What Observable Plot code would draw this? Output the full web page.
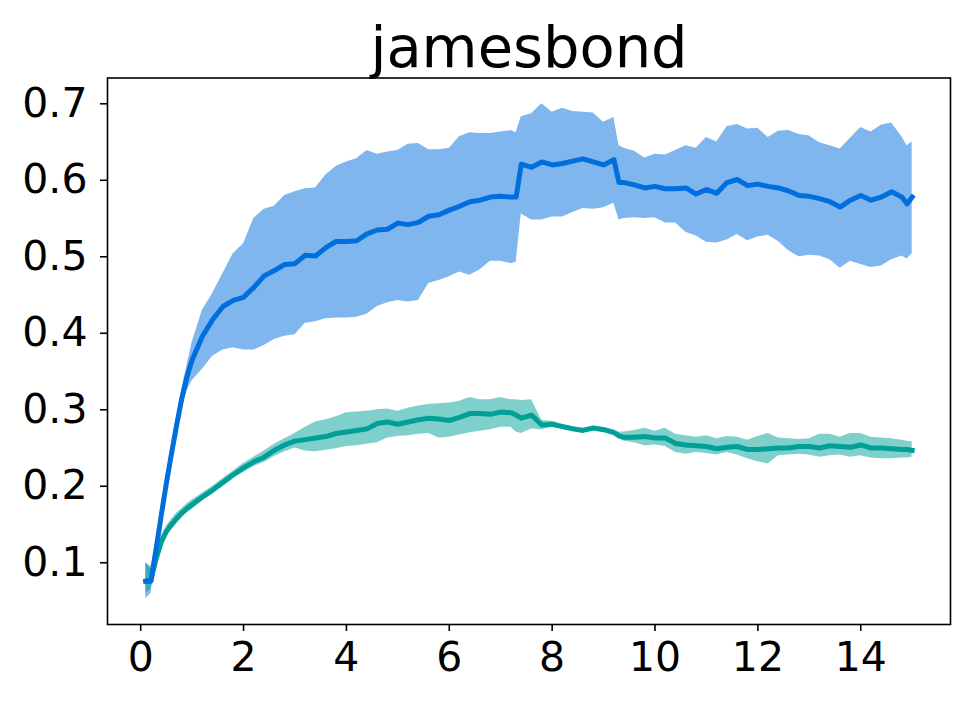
<!DOCTYPE html>
<html>
<head>
<meta charset="utf-8">
<script src="https://cdn.jsdelivr.net/npm/d3@7"></script>
<script src="https://cdn.jsdelivr.net/npm/@observablehq/plot@0.6"></script>
<style>
  html, body { margin: 0; padding: 0; background: white; }
</style>
</head>
<body>
<div id="chart"></div>
<script>
const title = "jamesbond";
const xTicks = [0, 2, 4, 6, 8, 10, 12, 14];
const yTicks = [0.1, 0.2, 0.3, 0.4, 0.5, 0.6, 0.7];

const xs = [0.1,0.2,0.3,0.4,0.5,0.6,0.7,0.8,0.9,1.0,
  1.2,1.4,1.6,1.8,2.0,2.2,2.4,2.6,2.8,3.0,3.2,3.4,3.6,3.8,4.0,4.2,4.4,4.6,4.8,5.0,
  5.2,5.4,5.6,5.8,6.0,6.2,6.4,6.6,6.8,7.0,7.2,7.3,
  7.4,7.6,7.8,8.0,8.2,8.4,8.6,8.8,9.0,9.2,9.3,
  9.4,9.6,9.8,10.0,10.2,10.4,10.6,10.8,11.0,11.2,11.4,11.6,11.8,12.0,12.2,12.4,12.6,12.8,
  13.0,13.2,13.4,13.6,13.8,14.0,14.2,14.4,14.6,14.8,14.9,15.0];

const blueMean = [0.076,0.076,0.118,0.162,0.204,0.243,0.280,0.315,0.343,0.365,
  0.396,0.418,0.435,0.443,0.447,0.460,0.475,0.482,0.490,0.491,0.502,0.501,0.512,0.520,0.520,0.521,0.530,0.535,0.536,0.544,
  0.542,0.545,0.553,0.555,0.561,0.566,0.572,0.574,0.578,0.579,0.578,0.578,
  0.621,0.617,0.624,0.620,0.622,0.625,0.628,0.624,0.620,0.627,0.597,
  0.597,0.594,0.590,0.592,0.589,0.589,0.590,0.582,0.588,0.583,0.597,0.601,0.593,0.595,0.592,0.590,0.586,0.580,
  0.579,0.576,0.572,0.565,0.574,0.580,0.574,0.578,0.585,0.578,0.569,0.578];

const blueHigh = [0.100,0.092,0.128,0.172,0.214,0.253,0.291,0.327,0.358,0.388,
  0.430,0.452,0.478,0.504,0.517,0.550,0.562,0.566,0.580,0.585,0.589,0.590,0.607,0.618,0.624,0.628,0.639,0.634,0.637,0.639,
  0.647,0.648,0.640,0.640,0.642,0.657,0.662,0.661,0.661,0.663,0.665,0.662,
  0.683,0.687,0.700,0.689,0.694,0.690,0.689,0.688,0.676,0.682,0.645,
  0.642,0.638,0.629,0.634,0.633,0.639,0.645,0.642,0.656,0.650,0.670,0.673,0.667,0.668,0.656,0.664,0.665,0.660,
  0.658,0.649,0.645,0.641,0.655,0.669,0.663,0.672,0.675,0.657,0.645,0.650];

const blueLow = [0.053,0.060,0.108,0.152,0.194,0.232,0.268,0.300,0.325,0.338,
  0.353,0.370,0.378,0.381,0.378,0.378,0.384,0.392,0.396,0.398,0.413,0.415,0.419,0.420,0.420,0.421,0.425,0.435,0.440,0.443,
  0.441,0.443,0.465,0.469,0.474,0.480,0.476,0.483,0.494,0.494,0.491,0.493,
  0.556,0.548,0.548,0.552,0.552,0.558,0.563,0.562,0.564,0.570,0.548,
  0.550,0.551,0.550,0.551,0.544,0.544,0.532,0.527,0.519,0.518,0.522,0.529,0.521,0.526,0.528,0.520,0.508,0.500,
  0.502,0.501,0.496,0.485,0.494,0.490,0.486,0.488,0.496,0.501,0.497,0.504];

const tealMean = [0.076,0.078,0.105,0.127,0.141,0.150,0.158,0.165,0.171,0.176,
  0.186,0.195,0.205,0.215,0.224,0.232,0.238,0.247,0.254,0.259,0.261,0.263,0.265,0.269,0.271,0.273,0.275,0.282,0.284,0.281,
  0.284,0.287,0.289,0.288,0.286,0.290,0.295,0.295,0.294,0.297,0.296,0.293,
  0.289,0.293,0.280,0.281,0.278,0.275,0.273,0.276,0.274,0.270,0.266,
  0.264,0.264,0.265,0.263,0.263,0.256,0.254,0.253,0.252,0.249,0.251,0.252,0.248,0.248,0.249,0.250,0.250,0.252,
  0.252,0.250,0.253,0.252,0.251,0.254,0.250,0.250,0.249,0.248,0.248,0.247];

const tealHigh = [0.100,0.095,0.113,0.134,0.148,0.157,0.165,0.171,0.177,0.182,
  0.191,0.200,0.210,0.220,0.230,0.238,0.246,0.255,0.262,0.269,0.277,0.284,0.287,0.291,0.296,0.297,0.298,0.300,0.301,0.298,
  0.302,0.305,0.307,0.308,0.309,0.311,0.316,0.313,0.313,0.316,0.313,0.313,
  0.312,0.313,0.286,0.285,0.281,0.278,0.276,0.279,0.277,0.274,0.271,
  0.271,0.273,0.276,0.272,0.276,0.268,0.266,0.264,0.266,0.262,0.265,0.264,0.260,0.265,0.269,0.263,0.262,0.261,
  0.262,0.268,0.268,0.264,0.269,0.269,0.264,0.263,0.262,0.260,0.259,0.258];

const tealLow = [0.060,0.065,0.097,0.120,0.134,0.143,0.151,0.159,0.165,0.170,
  0.181,0.190,0.200,0.210,0.218,0.226,0.231,0.239,0.245,0.250,0.246,0.245,0.247,0.249,0.252,0.253,0.255,0.257,0.263,0.265,
  0.266,0.268,0.269,0.263,0.264,0.267,0.270,0.272,0.274,0.277,0.277,0.271,
  0.269,0.275,0.274,0.277,0.275,0.272,0.270,0.273,0.271,0.267,0.262,
  0.259,0.257,0.253,0.254,0.252,0.244,0.242,0.244,0.243,0.241,0.244,0.241,0.236,0.232,0.229,0.240,0.241,0.242,
  0.241,0.238,0.240,0.241,0.238,0.240,0.237,0.236,0.236,0.237,0.237,0.238];

const blueColor = "#006edc";
const tealColor = "#009f97";

const data = xs.map((x, i) => ({
  x,
  bm: blueMean[i], bl: blueLow[i], bu: blueHigh[i],
  tm: tealMean[i], tl: tealLow[i], tu: tealHigh[i]
}));

const chart = Plot.plot({
  width: 968,
  height: 704,
  marginLeft: 107,
  marginRight: 18,
  marginTop: 77.5,
  marginBottom: 80,
  style: { fontFamily: "DejaVu Sans", background: "white", color: "black", overflow: "visible" },
  x: { domain: [-0.645, 15.745] },
  y: { domain: [0.0193, 0.7337] },
  marks: [
    Plot.areaY(data, { x: "x", y1: "bl", y2: "bu", fill: blueColor, fillOpacity: 0.5, curve: "linear" }),
    Plot.areaY(data, { x: "x", y1: "tl", y2: "tu", fill: tealColor, fillOpacity: 0.5, curve: "linear" }),
    Plot.lineY(data, { x: "x", y: "tm", stroke: tealColor, strokeWidth: 5, strokeLinecap: "square", curve: "linear" }),
    Plot.lineY(data, { x: "x", y: "bm", stroke: blueColor, strokeWidth: 5, strokeLinecap: "square", curve: "linear" }),
    Plot.frame({ stroke: "black", strokeWidth: 1.6 }),
    Plot.axisX({ ticks: xTicks, tickSize: 7, tickPadding: 10, fontSize: 41, strokeWidth: 1.6, tickFormat: d => String(d), label: null }),
    Plot.axisY({ ticks: yTicks, tickSize: 7, tickPadding: 13, fontSize: 41, strokeWidth: 1.6, tickFormat: d3.format(".1f"), label: null }),
    Plot.text([title], { frameAnchor: "top", lineAnchor: "bottom", dy: -11.5, text: d => d, fontSize: 57.5, fill: "black" })
  ]
});
document.getElementById("chart").appendChild(chart);
</script>
</body>
</html>
